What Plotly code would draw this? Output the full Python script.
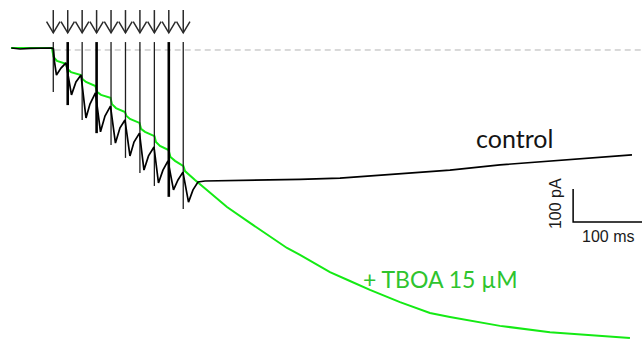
import plotly.graph_objects as go

# ---------------- data (time in ms, current in pA) ----------------
stim_times = [0, 20, 40, 60, 80, 100, 120, 140, 160, 180]
artifact_top = 24
artifact_bottom = [-127, -167, -212, -252, -288, -327, -373, -412, -445, -482]
thick_artifacts = [1, 3, 8]

control_t = [-58, -46, -32, -18, -2, 0.3, 1.7, 4.4, 10.7, 17.6,
             25.2, 31.4, 38.4,
             45.3, 50.8, 58.4,
             65.4, 71.6, 79.2,
             86.1, 92.4, 99.3,
             106.2, 111.8, 119.4,
             125.6, 131.9, 139.5,
             145.7, 151.9, 158.9,
             166.5, 172.7, 179.6,
             187.3, 193.5, 200.4, 210.1,
             272.4, 341.7, 397.1, 480.2, 549.4, 618.7, 710.1, 801.5]
control_pA = [6, 3, 5, 6, 6, 3, -36, -76, -55, -39,
              -136, -97, -76,
              -206, -164, -130,
              -248, -200, -170,
              -282, -236, -212,
              -321, -279, -252,
              -364, -321, -294,
              -403, -364, -336,
              -424, -394, -370,
              -461, -424, -400, -397,
              -395, -392, -388, -376, -364, -348, -333, -318]

tboa_t = [-58.6, -1.8, 0.3, 5.1, 17.6,
          19.7, 24.5, 38.4,
          40.4, 45.3, 58.4,
          60.5, 66.1, 79.2,
          81.3, 86.8, 99.3,
          101.4, 106.2, 119.4,
          121.5, 127.0, 140.2,
          142.2, 147.8, 159.6,
          162.3, 168.6, 180.3,
          182.4, 196.3, 212.5, 240.6, 272.4, 286.3, 323.7, 341.7, 383.2,
          410.9, 438.6, 480.2, 521.7, 549.4, 618.7, 687.9, 757.2, 798.7]
tboa_pA = [6, 6, -21, -33, -42,
           -58, -67, -76,
           -88, -97, -109,
           -127, -136, -145,
           -164, -176, -188,
           -200, -209, -221,
           -239, -248, -261,
           -279, -291, -303,
           -324, -336, -352,
           -367, -394, -424, -476, -524, -545, -600, -621, -673,
           -700, -727, -764, -797, -809, -836, -855, -867, -873]

label_control = "control"
label_tboa = "+ TBOA 15 µM"
scale_x_label = "100 ms"
scale_y_label = "100 pA"
scale_x_len = 100   # ms
scale_y_len = 100   # pA

# ---------------- geometry / style constants ----------------
X_RANGE = [-73.8, 815.4]
Y_RANGE = [-887.9, 151.5]
ARROW_TOP, ARROW_TIP, ARROW_ARM, ARROW_HALF = 121, 52, 86, 9.3
SCALE_X0, SCALE_Y0 = 720, -521
GREEN = "#14ea14"

fig = go.Figure()

# dashed baseline
fig.add_trace(go.Scatter(x=[2, X_RANGE[1]], y=[0, 0], mode="lines",
                         line=dict(color="#b4b4b4", width=1, dash="6px,4px"),
                         hoverinfo="skip", showlegend=False))

# TBOA trace (green)
fig.add_trace(go.Scatter(x=tboa_t, y=tboa_pA, mode="lines",
                         line=dict(color=GREEN, width=2),
                         hoverinfo="skip", showlegend=False))

# stimulus artifacts
thin_x, thin_y, thick_x, thick_y = [], [], [], []
for i, (s, b) in enumerate(zip(stim_times, artifact_bottom)):
    if i in thick_artifacts:
        thick_x += [s, s, None]
        thick_y += [artifact_top, b, None]
    else:
        thin_x += [s, s, None]
        thin_y += [artifact_top, b, None]
fig.add_trace(go.Scatter(x=thin_x, y=thin_y, mode="lines",
                         line=dict(color="#1e1e1e", width=1.3),
                         hoverinfo="skip", showlegend=False))
fig.add_trace(go.Scatter(x=thick_x, y=thick_y, mode="lines",
                         line=dict(color="#000000", width=2.6),
                         hoverinfo="skip", showlegend=False))

# control trace (black)
fig.add_trace(go.Scatter(x=control_t, y=control_pA, mode="lines",
                         line=dict(color="#000000", width=1.7),
                         hoverinfo="skip", showlegend=False))

# stimulation arrows
ax, ay = [], []
for s in stim_times:
    ax += [s, s, None, s - ARROW_HALF, s, s + ARROW_HALF, None]
    ay += [ARROW_TOP, ARROW_TIP, None, ARROW_ARM, ARROW_TIP, ARROW_ARM, None]
fig.add_trace(go.Scatter(x=ax, y=ay, mode="lines",
                         line=dict(color="#2a2a2a", width=1.5),
                         hoverinfo="skip", showlegend=False))

# scale bar
fig.add_trace(go.Scatter(x=[SCALE_X0, SCALE_X0, SCALE_X0 + scale_x_len],
                         y=[SCALE_Y0 + scale_y_len, SCALE_Y0, SCALE_Y0],
                         mode="lines", line=dict(color="#000000", width=1.5),
                         hoverinfo="skip", showlegend=False))

fig.add_annotation(x=0.8014, y=0.598, xref="paper", yref="paper",
                   text=label_control, showarrow=False, xanchor="center", yanchor="middle",
                   font=dict(family="Lato", size=25, color="#141414"))
fig.add_annotation(x=0.6854, y=0.187, xref="paper", yref="paper",
                   text=label_tboa, showarrow=False, xanchor="center", yanchor="middle",
                   font=dict(family="Lato", size=23, color="#2ec42e"))
fig.add_annotation(x=0.947, y=0.31, xref="paper", yref="paper",
                   text=scale_x_label, showarrow=False, xanchor="center", yanchor="middle",
                   font=dict(family="Liberation Sans", size=16, color="#1a1a1a"))
fig.add_annotation(x=0.8645, y=0.405, xref="paper", yref="paper",
                   text=scale_y_label, showarrow=False, xanchor="center", yanchor="middle",
                   textangle=-90,
                   font=dict(family="Liberation Sans", size=16, color="#1a1a1a"))

fig.update_layout(width=642, height=343, autosize=False,
                  margin=dict(l=0, r=0, t=0, b=0),
                  paper_bgcolor="white", plot_bgcolor="white")
fig.update_xaxes(range=X_RANGE, visible=False, showgrid=False, zeroline=False)
fig.update_yaxes(range=Y_RANGE, visible=False, showgrid=False, zeroline=False)

fig.write_html("out.html")
